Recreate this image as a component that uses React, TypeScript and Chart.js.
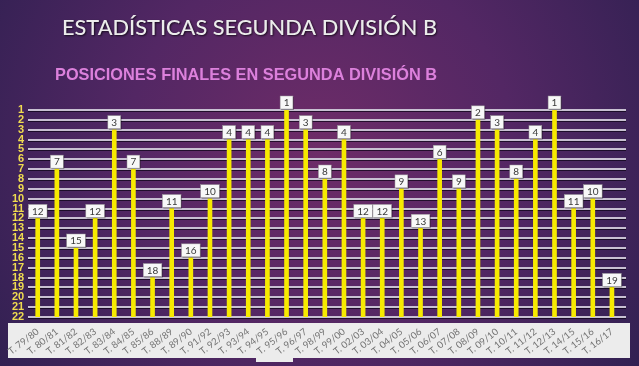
import React, { useEffect, useRef } from "react";
import { Chart, registerables } from "chart.js";

Chart.register(...registerables);

const W = 639;
const H = 366;

const TITLE = "ESTADÍSTICAS SEGUNDA DIVISIÓN B";
const SUBTITLE = "POSICIONES FINALES EN SEGUNDA DIVISIÓN B";

const seasons = [
  "T. 79/80", "T. 80/81", "T. 81/82", "T. 82/83", "T. 83/84", "T. 84/85",
  "T. 85/86", "T. 88/89", "T. 89/90", "T. 91/92", "T. 92/93", "T. 93/94",
  "T. 94/95", "T. 95/96", "T. 96/97", "T. 98/99", "T. 99/00", "T. 02/03",
  "T. 03/04", "T. 04/05", "T. 05/06", "T. 06/07", "T. 07/08", "T. 08/09",
  "T. 09/10", "T. 10/11", "T. 11/12", "T. 12/13", "T. 14/15", "T. 15/16",
  "T. 16/17",
];

const positions = [
  12, 7, 15, 12, 3, 7, 18, 11, 16, 10, 4, 4, 4, 1, 3, 8, 4, 12, 12, 9, 13, 6,
  9, 2, 3, 8, 4, 1, 11, 10, 19,
];

const POS_MIN = 1;
const POS_MAX = 22;

function fitText(
  ctx: CanvasRenderingContext2D,
  text: string,
  cx: number,
  baseline: number,
  targetW: number,
  font: string,
  color: string,
  shadow: boolean
) {
  ctx.save();
  ctx.font = font;
  const w = ctx.measureText(text).width;
  const sx = targetW / w;
  ctx.translate(cx, baseline);
  ctx.scale(sx, 1);
  ctx.textAlign = "center";
  ctx.textBaseline = "alphabetic";
  if (shadow) {
    ctx.shadowColor = "rgba(0,0,0,0.7)";
    ctx.shadowBlur = 2;
    ctx.shadowOffsetX = 1;
    ctx.shadowOffsetY = 1;
  }
  ctx.fillStyle = color;
  ctx.fillText(text, 0, 0);
  ctx.restore();
}

const backgroundPlugin = {
  id: "bgDecor",
  beforeDraw(chart: any) {
    const ctx: CanvasRenderingContext2D = chart.ctx;
    ctx.save();
    const g = ctx.createRadialGradient(320, 150, 0, 320, 150, 430);
    g.addColorStop(0, "#6e2c68");
    g.addColorStop(0.45, "#532764");
    g.addColorStop(1, "#2a1f4e");
    ctx.fillStyle = g;
    ctx.fillRect(0, 0, W, H);

    fitText(ctx, TITLE, 249.5, 35, 375, "500 22px Lato", "#ececec", true);
    fitText(ctx, SUBTITLE, 246, 80, 382, "bold 17px 'Liberation Sans'", "#dc80dc", false);

    // x label strip
    ctx.fillStyle = "#ececec";
    ctx.fillRect(8, 323, 622, 35);
    ctx.fillRect(256, 357, 37, 5);

    // gridlines
    const ys = chart.scales.y;
    for (let v = POS_MIN; v <= POS_MAX; v++) {
      const y = Math.round(ys.getPixelForValue(v));
      ctx.fillStyle = "rgba(15,5,25,0.75)";
      ctx.fillRect(28, y + 1, 598, 1);
      ctx.fillStyle = "#c8c0d2";
      ctx.fillRect(28, y - 1, 598, 2);
    }
    ctx.restore();
  },
};

const labelPlugin = {
  id: "valueBoxes",
  afterDatasetsDraw(chart: any) {
    const ctx: CanvasRenderingContext2D = chart.ctx;
    const meta = chart.getDatasetMeta(0);
    ctx.save();
    ctx.font = "10px Lato";
    ctx.textAlign = "center";
    ctx.textBaseline = "middle";
    meta.data.forEach((bar: any, i: number) => {
      const txt = String(positions[i]);
      const tw = ctx.measureText(txt).width;
      const bw = Math.max(11, tw + 7);
      const bh = 13;
      const bx = bar.x - bw / 2;
      const by = bar.y - 1 - bh;
      ctx.fillStyle = "rgba(0,0,0,0.35)";
      ctx.fillRect(bx + 1, by + 1, bw, bh);
      ctx.fillStyle = "#f8f8f8";
      ctx.fillRect(bx, by, bw, bh);
      ctx.strokeStyle = "#9a9a9a";
      ctx.lineWidth = 0.5;
      ctx.strokeRect(bx, by, bw, bh);
      ctx.fillStyle = "#3a3a3a";
      ctx.fillText(txt, bar.x, by + bh / 2 + 0.5);
    });
    ctx.restore();
  },
};

export default function App() {
  const ref = useRef<HTMLCanvasElement | null>(null);

  useEffect(() => {
    if (!ref.current) return;
    const chart = new Chart(ref.current, {
      type: "bar",
      data: {
        labels: seasons,
        datasets: [
          {
            data: positions,
            base: POS_MAX,
            backgroundColor: "#f7ea00",
            borderWidth: 0,
            barThickness: 4,
          } as any,
        ],
      },
      options: {
        responsive: false,
        maintainAspectRatio: false,
        animation: false,
        layout: { padding: { top: 110, left: 0, right: 17.5, bottom: 0 } },
        plugins: {
          legend: { display: false },
          tooltip: { enabled: false },
          title: { display: false },
        },
        scales: {
          x: {
            offset: true,
            grid: { display: false, drawTicks: false },
            border: { display: false },
            ticks: {
              color: "#727272",
              font: { family: "Lato", size: 9.5 },
              minRotation: 38,
              maxRotation: 38,
              autoSkip: false,
              padding: 9,
            },
            afterFit(s: any) {
              s.height = 49;
            },
          },
          y: {
            min: POS_MIN,
            max: POS_MAX,
            reverse: true,
            grid: { display: false, drawTicks: false },
            border: { display: false },
            ticks: {
              stepSize: 1,
              autoSkip: false,
              color: "#f0dc50",
              font: { family: "Liberation Sans", size: 11, weight: "bold" },
              padding: 4,
            },
            afterFit(s: any) {
              s.width = 23.5;
            },
          },
        },
      },
      plugins: [backgroundPlugin, labelPlugin],
    });
    return () => chart.destroy();
  }, []);

  return (
    <div style={{ position: "absolute", left: 0, top: 0, width: W, height: H }}>
      <canvas ref={ref} width={W} height={H} style={{ width: W, height: H, display: "block" }} />
    </div>
  );
}
